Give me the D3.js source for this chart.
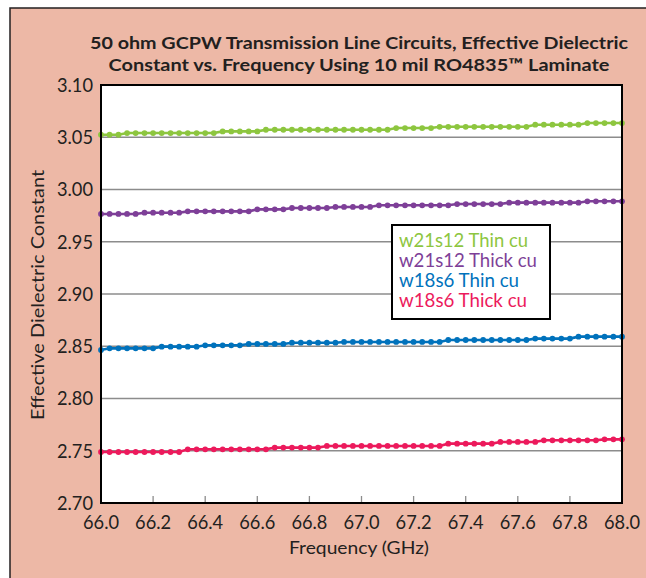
<!DOCTYPE html>
<html><head><meta charset="utf-8">
<script src="https://cdn.jsdelivr.net/npm/d3@7"></script>
<style>body{margin:0;background:#fff}svg{display:block}text{font-family:Lato,"Noto Sans",sans-serif;fill:#231F20}</style>
</head><body><svg id="c" width="646" height="578"></svg>
<script>
const titleLines = ["50 ohm GCPW Transmission Line Circuits, Effective Dielectric","Constant vs. Frequency Using 10 mil RO4835™ Laminate"];
const xLabel = "Frequency (GHz)";
const yLabel = "Effective Dielectric Constant";
const xTicks = [66.0,66.2,66.4,66.6,66.8,67.0,67.2,67.4,67.6,67.8,68.0];
const yTicks = [2.70,2.75,2.80,2.85,2.90,2.95,3.00,3.05,3.10];
const freq = [66.000,66.033,66.067,66.100,66.133,66.167,66.200,66.233,66.267,66.300,66.333,66.367,66.400,66.433,66.467,66.500,66.533,66.567,66.600,66.633,66.667,66.700,66.733,66.767,66.800,66.833,66.867,66.900,66.933,66.967,67.000,67.033,67.067,67.100,67.133,67.167,67.200,67.233,67.267,67.300,67.333,67.367,67.400,67.433,67.467,67.500,67.533,67.567,67.600,67.633,67.667,67.700,67.733,67.767,67.800,67.833,67.867,67.900,67.933,67.967,68.000];
const seriesNames = ["w21s12 Thin cu","w21s12 Thick cu","w18s6 Thin cu","w18s6 Thick cu"];
const seriesColors = ["#8DC63F","#7E3F98","#0072BC","#EC1A5C"];
const w21s12Thin = [3.0524,3.0524,3.0524,3.0540,3.0540,3.0540,3.0540,3.0540,3.0540,3.0540,3.0540,3.0540,3.0540,3.0540,3.0556,3.0556,3.0556,3.0556,3.0556,3.0572,3.0572,3.0572,3.0572,3.0572,3.0572,3.0572,3.0572,3.0572,3.0572,3.0572,3.0572,3.0572,3.0572,3.0572,3.0588,3.0588,3.0588,3.0588,3.0588,3.0600,3.0600,3.0600,3.0600,3.0600,3.0600,3.0600,3.0600,3.0600,3.0600,3.0600,3.0620,3.0620,3.0620,3.0620,3.0620,3.0620,3.0636,3.0636,3.0636,3.0636,3.0636];
const w21s12Thick = [2.9766,2.9766,2.9766,2.9766,2.9766,2.9778,2.9778,2.9778,2.9778,2.9778,2.9791,2.9791,2.9791,2.9791,2.9791,2.9791,2.9791,2.9791,2.9810,2.9810,2.9810,2.9810,2.9823,2.9823,2.9823,2.9823,2.9823,2.9833,2.9833,2.9833,2.9833,2.9833,2.9849,2.9849,2.9849,2.9849,2.9849,2.9849,2.9849,2.9849,2.9849,2.9861,2.9861,2.9861,2.9861,2.9861,2.9861,2.9874,2.9874,2.9874,2.9874,2.9874,2.9874,2.9874,2.9874,2.9874,2.9887,2.9887,2.9887,2.9887,2.9887];
const w18s6Thin = [2.8464,2.8480,2.8480,2.8480,2.8480,2.8480,2.8480,2.8496,2.8496,2.8496,2.8496,2.8496,2.8509,2.8509,2.8509,2.8509,2.8509,2.8522,2.8522,2.8522,2.8522,2.8522,2.8534,2.8534,2.8534,2.8534,2.8534,2.8534,2.8541,2.8541,2.8541,2.8541,2.8541,2.8541,2.8541,2.8541,2.8541,2.8541,2.8541,2.8541,2.8560,2.8560,2.8560,2.8560,2.8560,2.8560,2.8560,2.8560,2.8560,2.8560,2.8573,2.8573,2.8573,2.8573,2.8573,2.8592,2.8592,2.8592,2.8592,2.8592,2.8592];
const w18s6Thick = [2.7488,2.7488,2.7488,2.7488,2.7488,2.7488,2.7488,2.7488,2.7488,2.7488,2.7514,2.7514,2.7514,2.7514,2.7514,2.7514,2.7514,2.7514,2.7514,2.7514,2.7530,2.7530,2.7530,2.7530,2.7530,2.7530,2.7546,2.7546,2.7546,2.7546,2.7546,2.7546,2.7546,2.7546,2.7546,2.7546,2.7546,2.7546,2.7546,2.7546,2.7568,2.7568,2.7568,2.7568,2.7568,2.7568,2.7584,2.7584,2.7584,2.7584,2.7584,2.7600,2.7600,2.7600,2.7600,2.7600,2.7600,2.7600,2.7609,2.7609,2.7609];
const seriesValues = [w21s12Thin, w21s12Thick, w18s6Thin, w18s6Thick];

const svg = d3.select("#c");
svg.append("rect").attr("x",10).attr("y",8).attr("width",700).attr("height",650)
  .attr("fill","#EDB8A6").attr("stroke","#231F20").attr("stroke-width",1.5);

const L=101, R=622, T=85, B=503;
const x = d3.scaleLinear().domain([66,68]).range([L,R]);
const y = d3.scaleLinear().domain([2.70,3.10]).range([B,T]);

svg.append("rect").attr("x",L).attr("y",T).attr("width",R-L).attr("height",B-T).attr("fill","#fff");

svg.append("g").selectAll("line").data(yTicks.slice(1,-1)).join("line")
  .attr("x1",L).attr("x2",R).attr("y1",d=>y(d)).attr("y2",d=>y(d))
  .attr("stroke","#8C8C8C").attr("stroke-width",1.6);

svg.append("g").selectAll("line").data(xTicks.slice(1,-1)).join("line")
  .attr("x1",d=>x(d)).attr("x2",d=>x(d)).attr("y1",B).attr("y2",B-7)
  .attr("stroke","#8C8C8C").attr("stroke-width",1.3);

const line = d3.line().x((d,i)=>x(freq[i])).y(d=>y(d));
seriesValues.forEach((vals,k)=>{
  const g = svg.append("g");
  g.append("path").datum(vals).attr("d",line).attr("fill","none")
    .attr("stroke",seriesColors[k]).attr("stroke-width",2.6);
  g.selectAll("circle").data(vals).join("circle")
    .attr("cx",(d,i)=>x(freq[i])).attr("cy",d=>y(d)).attr("r",2.9)
    .attr("fill",seriesColors[k]);
});

svg.append("rect").attr("x",L).attr("y",T).attr("width",R-L).attr("height",B-T)
  .attr("fill","none").attr("stroke","#000").attr("stroke-width",2);

svg.append("g").selectAll("text").data(yTicks).join("text")
  .attr("x",93).attr("y",d=>y(d)).attr("dy","0.36em").attr("text-anchor","end")
  .attr("font-size",19).attr("textLength",36).attr("lengthAdjust","spacingAndGlyphs")
  .text(d=>d.toFixed(2));
svg.append("g").selectAll("text").data(xTicks).join("text")
  .attr("x",d=>x(d)).attr("y",529).attr("text-anchor","middle")
  .attr("font-size",19).attr("textLength",36).attr("lengthAdjust","spacingAndGlyphs")
  .text(d=>d.toFixed(1));

svg.append("text").attr("x",359).attr("y",554).attr("text-anchor","middle")
  .attr("font-size",17.5).attr("textLength",140).attr("lengthAdjust","spacingAndGlyphs").text(xLabel);
svg.append("text").attr("transform","translate(44,295) rotate(-90)").attr("text-anchor","middle")
  .attr("font-size",17.5).attr("textLength",250).attr("lengthAdjust","spacingAndGlyphs").text(yLabel);

const tw=[538,501];
titleLines.forEach((t,i)=>{
  svg.append("text").attr("x",359).attr("y",49+i*22).attr("text-anchor","middle")
    .attr("font-size",17.5).attr("font-weight","bold")
    .attr("textLength",tw[i]).attr("lengthAdjust","spacingAndGlyphs").text(t);
});

const lg = svg.append("g");
lg.append("rect").attr("x",392).attr("y",225).attr("width",158).attr("height",94)
  .attr("fill","#fff").attr("stroke","#000").attr("stroke-width",2);
const legW=[129,138,120,128];
lg.selectAll("text").data(seriesNames).join("text")
  .attr("x",399).attr("y",(d,i)=>247+i*20).attr("font-size",18.5)
  .attr("textLength",(d,i)=>legW[i]).attr("lengthAdjust","spacingAndGlyphs")
  .style("fill",(d,i)=>seriesColors[i]).text(d=>d);
</script></body></html>
